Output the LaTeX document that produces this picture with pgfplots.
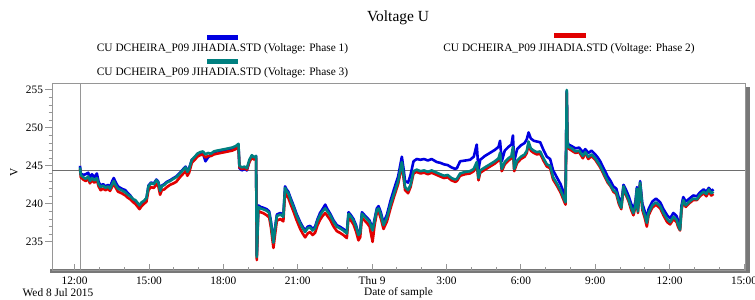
\documentclass[border=0pt]{standalone}
\usepackage{fontspec}
\setmainfont{Liberation Serif}
\usepackage{pgfplots}
\usepackage{pgfplotstable}
\pgfplotsset{compat=1.18}
\definecolor{pone}{RGB}{0,0,225}
\definecolor{ptwo}{RGB}{225,0,0}
\definecolor{pthree}{RGB}{0,128,128}
\definecolor{framegray}{RGB}{150,150,150}
\definecolor{shadowgray}{RGB}{120,120,120}
\definecolor{refgray}{RGB}{110,110,110}

% h = hours since Wed 8 Jul 2015 00:00 ; p1, p2, p3 = phase voltages (V)
\pgfplotstableread{
h p1 p2 p3
12.22 245.0 244.6 244.8
12.25 244.0 243.5 243.8
12.35 243.8 243.2 243.5
12.45 243.9 243.0 243.3
12.55 244.1 243.3 243.6
12.62 243.4 242.7 243.0
12.70 243.9 243.1 243.4
12.80 243.5 242.8 243.1
12.90 244.0 243.1 243.4
12.97 242.9 242.3 242.6
13.05 242.4 241.8 242.2
13.15 242.6 242.0 242.4
13.25 242.3 241.8 242.1
13.35 242.5 242.0 242.3
13.43 242.2 241.7 242.0
13.52 243.0 242.3 242.6
13.58 243.4 242.7 243.0
13.65 242.9 242.2 242.5
13.75 242.3 241.6 242.0
13.90 242.0 241.4 241.8
14.05 241.8 241.1 241.5
14.15 241.4 240.8 241.2
14.25 241.1 240.6 241.0
14.37 240.5 240.2 240.6
14.45 240.3 240.0 240.5
14.55 239.8 239.6 240.1
14.62 239.6 239.3 239.8
14.70 239.8 239.7 240.2
14.80 240.1 240.0 240.4
14.90 240.7 240.3 240.8
14.98 242.4 241.8 242.3
15.08 242.8 242.2 242.7
15.20 242.7 242.1 242.6
15.30 243.2 242.6 243.1
15.38 242.9 242.3 242.8
15.45 241.8 241.2 241.7
15.52 242.4 241.8 242.3
15.62 242.6 241.9 242.5
15.72 242.9 242.2 242.8
15.85 243.1 242.5 243.0
15.99 243.4 242.7 243.3
16.10 243.6 242.9 243.5
16.25 244.1 243.5 244.0
16.39 244.6 244.0 244.5
16.48 244.9 244.3 244.8
16.55 244.3 243.7 244.2
16.62 244.7 244.1 244.6
16.73 245.8 245.4 245.8
16.85 246.1 245.8 246.2
16.95 246.5 246.2 246.6
17.06 246.6 246.4 246.8
17.18 246.6 246.5 246.9
17.28 245.6 246.1 246.5
17.38 246.1 246.3 246.7
17.50 246.5 246.3 246.6
17.62 246.8 246.5 246.9
17.74 246.9 246.6 247.0
17.90 246.9 246.7 247.1
18.05 247.0 246.8 247.2
18.20 247.1 246.9 247.3
18.35 247.2 247.0 247.4
18.50 247.3 247.2 247.6
18.61 247.7 247.5 247.9
18.65 244.7 244.8 245.0
18.75 244.4 244.6 244.8
18.85 244.6 244.7 244.9
18.95 244.4 244.5 244.7
19.05 245.6 245.5 245.8
19.15 246.3 246.1 246.4
19.25 246.0 245.8 246.1
19.32 246.3 246.0 246.3
19.35 233.2 232.6 233.0
19.41 239.8 239.1 239.6
19.50 239.6 238.9 239.4
19.60 239.5 238.8 239.3
19.75 239.3 238.5 239.1
19.85 239.0 238.2 238.8
19.92 237.7 236.9 237.5
20.02 235.1 234.2 234.9
20.10 237.2 236.3 237.0
20.16 238.6 237.8 238.4
20.30 238.8 238.0 238.6
20.42 238.5 237.7 238.3
20.49 242.3 241.5 242.1
20.55 241.9 241.1 241.7
20.62 241.6 240.8 241.4
20.72 240.7 239.9 240.5
20.83 239.8 239.0 239.6
20.95 238.7 237.9 238.5
21.10 237.6 236.7 237.4
21.20 237.0 236.1 236.8
21.30 236.5 235.6 236.3
21.40 237.0 236.1 236.8
21.50 237.1 236.3 236.9
21.60 236.7 235.9 236.5
21.70 237.0 236.2 236.8
21.80 238.0 237.2 237.8
21.90 238.8 237.9 238.5
22.00 239.3 238.4 239.0
22.11 239.9 238.8 239.4
22.20 239.3 238.4 239.0
22.31 238.7 237.9 238.5
22.45 237.8 237.0 237.6
22.58 237.2 236.4 237.0
22.70 237.0 236.2 236.8
22.84 236.7 235.9 236.5
22.98 236.3 235.5 236.1
23.05 238.9 238.2 238.7
23.15 238.5 237.8 238.3
23.25 238.0 237.3 237.8
23.35 237.2 236.4 237.0
23.45 236.1 235.2 235.9
23.52 236.4 235.6 236.2
23.59 238.9 238.2 238.7
23.70 238.5 237.8 238.3
23.79 238.2 237.5 238.0
23.90 237.8 237.0 237.6
24.02 236.7 235.0 236.5
24.10 238.0 237.2 237.8
24.19 239.4 238.8 239.2
24.26 239.7 239.0 239.4
24.35 238.9 238.1 238.6
24.46 237.5 236.7 237.2
24.60 238.6 237.7 238.2
24.75 240.5 239.5 240.0
24.90 242.1 241.1 241.5
25.05 243.6 242.6 243.0
25.20 246.2 245.1 245.5
25.27 244.6 243.4 243.8
25.33 243.0 241.8 242.2
25.45 242.8 241.4 241.8
25.55 243.8 242.2 242.5
25.67 245.6 244.0 244.3
25.80 245.9 244.2 244.5
25.95 245.8 244.0 244.3
26.10 245.9 244.1 244.4
26.25 245.7 243.9 244.2
26.40 245.9 244.1 244.4
26.61 245.5 243.8 244.1
26.75 245.4 243.6 243.9
26.90 245.2 243.4 243.7
27.05 245.1 243.5 243.8
27.20 244.8 243.1 243.4
27.35 244.6 242.9 243.2
27.42 244.7 243.0 243.3
27.55 245.6 243.7 244.0
27.75 245.7 243.9 244.2
27.95 245.8 244.0 244.3
28.10 246.2 244.3 244.6
28.22 247.8 245.2 245.5
28.29 244.5 243.1 243.4
28.36 245.8 244.1 244.4
28.55 246.3 244.5 244.8
28.75 246.7 244.9 245.2
28.95 247.1 245.3 245.6
29.10 247.5 245.7 246.0
29.16 248.3 246.4 246.7
29.23 245.6 244.3 244.6
29.35 247.0 245.2 245.5
29.50 247.5 245.7 246.0
29.62 247.8 246.0 246.3
29.68 249.0 247.2 247.5
29.73 245.6 244.3 244.6
29.85 247.2 245.4 245.7
30.00 247.7 245.9 246.2
30.15 248.0 246.2 246.5
30.24 248.5 246.7 247.0
30.31 249.4 247.9 248.2
30.40 248.6 247.0 247.3
30.52 248.3 246.7 247.0
30.65 248.2 246.5 246.8
30.78 248.1 246.6 246.9
30.91 247.1 245.7 246.0
31.05 246.2 244.9 245.2
31.18 245.9 244.7 245.0
31.30 244.4 243.2 243.5
31.45 243.5 242.4 242.7
31.60 242.6 241.5 241.8
31.75 241.3 240.3 240.6
31.80 240.8 239.9 240.2
31.85 254.8 254.6 255.0
31.88 248.2 247.8 248.0
31.92 247.8 247.3 247.5
32.05 247.6 247.0 247.3
32.20 247.3 246.7 246.9
32.35 247.4 246.8 247.0
32.50 246.8 246.0 246.3
32.60 247.2 246.7 246.8
32.72 246.7 245.9 246.2
32.85 247.0 246.3 246.5
33.00 246.5 245.8 246.0
33.10 246.1 245.3 245.5
33.20 245.6 244.8 245.0
33.35 244.6 243.8 244.0
33.50 243.6 242.8 243.0
33.62 243.0 242.3 242.4
33.73 242.3 241.6 241.8
33.85 242.0 241.3 241.5
33.95 240.8 240.0 240.3
34.05 240.0 239.3 239.5
34.14 242.5 242.1 242.3
34.22 242.0 241.3 241.5
34.35 241.0 240.3 240.5
34.45 240.0 239.2 239.5
34.54 239.3 238.5 238.8
34.62 240.3 239.6 239.8
34.68 242.2 241.7 242.0
34.72 239.5 238.8 239.0
34.81 243.0 242.6 242.8
34.90 240.0 239.2 239.5
35.00 239.0 238.1 238.5
35.08 238.0 237.0 237.5
35.15 239.3 238.5 238.8
35.30 240.3 239.5 239.8
35.45 240.7 239.9 240.2
35.62 240.2 239.4 239.7
35.75 239.3 238.5 238.8
35.90 238.5 237.6 238.0
36.02 238.1 237.3 237.6
36.15 238.8 238.0 238.3
36.28 238.4 237.6 237.9
36.35 237.7 236.9 237.2
36.42 237.0 236.5 236.6
36.48 239.8 239.2 239.5
36.55 240.9 240.3 240.5
36.65 240.3 239.6 239.8
36.80 240.7 240.1 240.3
36.95 241.1 240.5 240.7
37.10 241.0 240.5 240.6
37.22 241.5 241.0 241.2
37.37 241.9 241.4 241.6
37.48 241.6 241.0 241.3
37.58 242.1 241.6 241.9
37.68 241.7 241.1 241.4
37.77 241.9 241.3 241.6
}\voltdata

\begin{document}
\begin{tikzpicture}[x=1bp,y=1bp]
\path[use as bounding box] (0,0) rectangle (755,299);
% shadow of the frame
\fill[shadowgray] (746,29) rectangle (749.5,212);
\fill[shadowgray] (50,26) rectangle (749.5,29.6);
\begin{axis}[
  at={(52bp,29bp)}, anchor=south west,
  scale only axis, width=693bp, height=187bp,
  xmin=11.09, xmax=39.04, ymin=231.3, ymax=255.9,
  xtick={12,15,18,21,24,27,30,33,36,39},
  xticklabels={12:00,15:00,18:00,21:00,Thu 9,3:00,6:00,9:00,12:00,15:00},
  minor x tick num=2,
  ytick={235,240,245,250,255},
  minor y tick num=4,
  tick pos=left, tick align=outside,
  major tick length=6.5bp, minor tick length=3.5bp,
  major x tick style={yshift=6.5bp},
  minor x tick style={yshift=3.5bp},
  tick style={framegray, line width=0.8bp},
  axis line style={framegray, line width=0.8bp},
  /pgf/number format/assume math mode=true,
  ticklabel style={font=\fontsize{11.4}{13}\selectfont, text=black},
  xticklabel style={anchor=north, yshift=3bp},
  yticklabel style={anchor=east, xshift=1bp},
  xlabel={Date of sample},
  xlabel style={at={(axis description cs:0.5,0)}, anchor=center, yshift=-23bp, font=\fontsize{11.4}{13}\selectfont},
  ylabel={V},
  ylabel style={at={(axis description cs:-0.055,0.52)}, anchor=center, font=\fontsize{11.4}{13}\selectfont},
  every axis plot/.append style={line join=round},
]
\addplot[refgray, line width=0.8bp] coordinates {(11.09,244.4) (39.04,244.4)};
\addplot[framegray, line width=1bp] coordinates {(12.22,231.3) (12.22,255.9)};
\addplot[pone, line width=2.6bp] table[x=h, y=p1] {\voltdata};
\addplot[ptwo, line width=2.6bp] table[x=h, y=p2] {\voltdata};
\addplot[pthree, line width=2.6bp] table[x=h, y=p3] {\voltdata};
\end{axis}
% title and legend
\node[font=\fontsize{15.5}{18}\selectfont] at (398,281) {Voltage U};
\fill[pone] (207,259.5) rectangle (238,264.5);
\node[font=\fontsize{11.4}{13}\selectfont] at (222.5,250) {CU DCHEIRA\_P09 JIHADIA.STD (Voltage: Phase 1)};
\fill[ptwo] (554,261.5) rectangle (586,266.5);
\node[font=\fontsize{11.4}{13}\selectfont] at (569,250) {CU DCHEIRA\_P09 JIHADIA.STD (Voltage: Phase 2)};
\fill[pthree] (207,235.5) rectangle (238,240.5);
\node[font=\fontsize{11.4}{13}\selectfont] at (222.5,226) {CU DCHEIRA\_P09 JIHADIA.STD (Voltage: Phase 3)};
\node[font=\fontsize{11.4}{13}\selectfont] at (58,6) {Wed 8 Jul 2015};
\end{tikzpicture}
\end{document}
